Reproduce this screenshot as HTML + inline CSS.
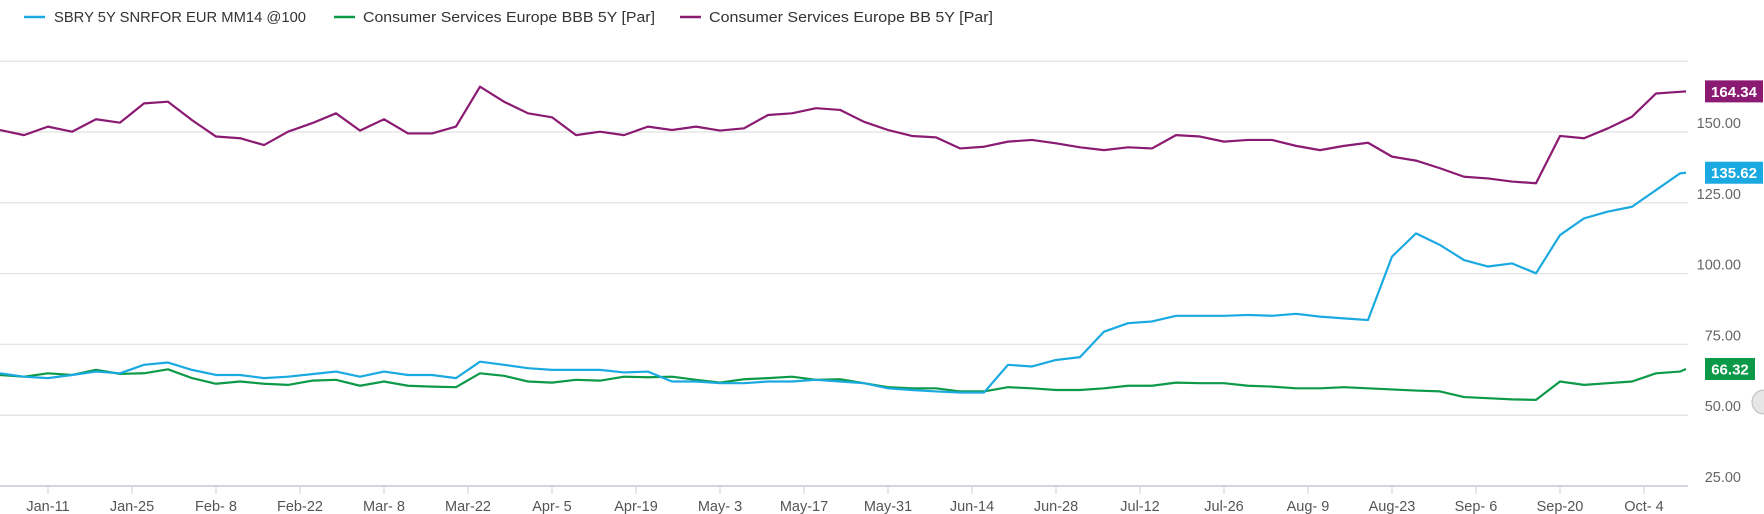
<!DOCTYPE html>
<html><head><meta charset="utf-8"><style>
html,body{margin:0;padding:0;background:#fff;}
svg{display:block;font-family:"Liberation Sans",sans-serif;}
</style></head><body>
<svg id="chart" width="1764" height="514">
<g id="legend">
 <g><line x1="24" y1="17" x2="45" y2="17" stroke="#1aa9e0" stroke-width="2.5"/><text x="54" y="22" font-size="14.5" fill="#333" textLength="252" lengthAdjust="spacingAndGlyphs">SBRY 5Y SNRFOR EUR MM14 @100</text></g>
 <g><line x1="334" y1="17" x2="355" y2="17" stroke="#0d9a48" stroke-width="2.5"/><text x="363" y="22" font-size="14.5" fill="#333" textLength="292" lengthAdjust="spacingAndGlyphs">Consumer Services Europe BBB 5Y [Par]</text></g>
 <g><line x1="680" y1="17" x2="701" y2="17" stroke="#8b1a72" stroke-width="2.5"/><text x="709" y="22" font-size="14.5" fill="#333" textLength="284" lengthAdjust="spacingAndGlyphs">Consumer Services Europe BB 5Y [Par]</text></g>
</g>
<g id="grid"></g><g id="xaxis"></g><g id="series"></g><g id="tags"></g>
<circle cx="1764" cy="402" r="12" fill="#e6e6e6" stroke="#bbb"/>
</svg>
<script>
const days = [0,4,8,12,16,20,24,28,32,36,40,44,48,52,56,60,64,68,72,76,80,84,88,92,96,100,104,108,112,116,120,124,128,132,136,140,144,148,152,156,160,164,168,172,176,180,184,188,192,196,200,204,208,212,216,220,224,228,232,236,240,244,248,252,256,260,264,268,272,276,280,281];
const sbry = [64.8,63.6,63.1,64.2,65.4,64.8,67.8,68.6,66.0,64.2,64.2,63.1,63.6,64.5,65.4,63.6,65.4,64.2,
 64.2,63.1,68.9,67.8,66.6,66.0,66.0,66.0,65.1,65.4,61.9,61.9,61.3,61.3,61.9,61.9,62.5,61.9,
 61.3,59.5,58.9,58.4,58.0,58.0,67.8,67.2,69.5,70.5,79.5,82.5,83.1,85.1,85.1,85.1,85.4,
 85.1,85.8,84.8,84.2,83.6,106.0,114.2,110.1,104.8,102.5,103.6,100.1,113.6,119.5,121.9,123.6,129.5,135.4,135.62];
const bbb = [64.2,63.6,64.8,64.2,66.0,64.6,64.8,66.2,63.1,61.1,61.9,61.1,60.7,62.2,62.5,60.4,61.9,60.4,
 60.1,59.9,64.8,63.9,61.9,61.5,62.5,62.2,63.6,63.4,63.6,62.5,61.5,62.7,63.1,63.6,62.5,62.7,
 61.3,59.9,59.5,59.5,58.4,58.4,59.9,59.5,58.9,58.9,59.5,60.4,60.4,61.5,61.3,61.3,60.4,
 60.1,59.5,59.5,59.9,59.5,59.1,58.7,58.4,56.4,56.0,55.6,55.4,61.9,60.7,61.3,61.9,64.8,65.4,66.32];
const bb = [150.7,148.9,151.9,150.1,154.5,153.3,160.1,160.7,154.2,148.4,147.8,145.4,150.1,153.1,156.6,150.5,154.5,149.5,
 149.5,151.9,166.0,160.7,156.6,155.2,148.9,150.1,148.9,151.9,150.7,151.9,150.5,151.3,156.0,156.6,158.4,157.8,
 153.6,150.7,148.6,148.1,144.2,144.8,146.6,147.2,146.0,144.6,143.6,144.6,144.2,148.9,148.4,146.6,147.2,
 147.2,145.1,143.6,145.1,146.2,141.3,139.9,137.2,134.2,133.6,132.5,131.9,148.6,147.8,151.3,155.4,163.6,164.2,164.34];
const yTicks = [25,50,75,100,125,150,175];
const xTickDays = [8,22,36,50,64,78,92,106,120,134,148,162,176,190,204,218,232,246,260,274];
const xTickLabels = ["Jan-11","Jan-25","Feb- 8","Feb-22","Mar- 8","Mar-22","Apr- 5","Apr-19","May- 3","May-17","May-31","Jun-14","Jun-28","Jul-12","Jul-26","Aug- 9","Aug-23","Sep- 6","Sep-20","Oct- 4"];
const NS="http://www.w3.org/2000/svg";
const X = d => d*6;
const Y = v => 132 + (150 - v)*2.832;
function mk(tag, attrs, parent){const e=document.createElementNS(NS,tag);for(const k in attrs)e.setAttribute(k,attrs[k]);parent.appendChild(e);return e;}
const grid=document.getElementById('grid');
yTicks.forEach(v=>{
 const l=mk('line',{x1:0,x2:1688,y1:Y(v),y2:Y(v),stroke:v===25?'#d4d4dc':'#e6e6e6','stroke-width':v===25?2:1.5},grid);
 
 
 if(v<175){const t=mk('text',{x:1741,y:Y(v)-4,'text-anchor':'end','font-size':14.5,fill:'#666'},grid);
 t.textContent=v.toFixed(2);
 
 }
});
const xa=document.getElementById('xaxis');
xTickDays.forEach((d,i)=>{
 const tk=mk('line',{x1:X(d),x2:X(d),y1:486,y2:494,stroke:'#ccd',"stroke-width":1},xa);
 
 
 const t=mk('text',{x:X(d),y:511,'text-anchor':'middle','font-size':14.5,fill:'#555'},xa);
 t.textContent=xTickLabels[i];
 
 
});
const sg=document.getElementById('series');
[[bb,'#8b1a72','line-bb'],[bbb,'#0d9a48','line-bbb'],[sbry,'#1aa9e0','line-sbry']].forEach(([arr,c,n])=>{
 const p=mk('polyline',{points:arr.map((v,i)=>X(days[i])+','+Y(v)).join(' '),fill:'none',stroke:c,'stroke-width':2.2,'stroke-linejoin':'round'},sg);
 
 
});
const tg=document.getElementById('tags');
[[bb,'#8b1a72','tag-bb',58],[sbry,'#1aa9e0','tag-sbry',58],[bbb,'#0d9a48','tag-bbb',50]].forEach(([arr,c,n,w])=>{
 const v=arr[arr.length-1], y=Y(v);
 const r=mk('rect',{x:1705,y:y-11,width:w,height:22,fill:c},tg);
 
 
 const t=mk('text',{x:1705+w/2,y:y+5.5,'text-anchor':'middle','font-size':15,'font-weight':'bold',fill:'#fff'},tg);
 t.textContent=v.toFixed(2);
 
 
});
</script>
</body></html>
